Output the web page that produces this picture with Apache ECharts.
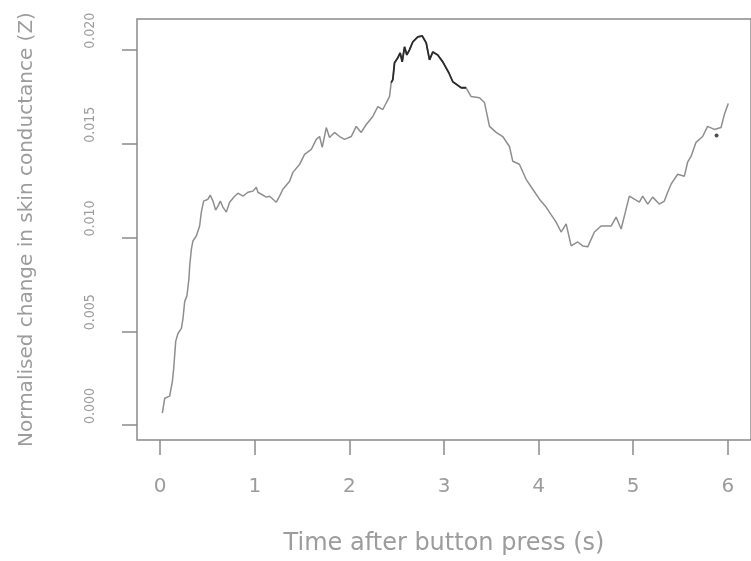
<!DOCTYPE html>
<html>
<head>
<meta charset="utf-8">
<script src="https://cdn.jsdelivr.net/npm/echarts@6/dist/echarts.min.js"></script>
<style>
html,body{margin:0;padding:0;background:#fff;}
#chart{width:751px;height:561px;}
</style>
</head>
<body>
<div id="chart"></div>
<script>
// Time after button press (s)
var timeS = [
  0.023, 0.048, 0.100, 0.129, 0.143, 0.164, 0.188, 0.224, 0.241, 0.259,
  0.283, 0.304, 0.312, 0.330, 0.346, 0.382, 0.417, 0.435, 0.459, 0.505,
  0.530, 0.558, 0.586, 0.611, 0.636, 0.663, 0.699, 0.734, 0.787, 0.822,
  0.875, 0.927, 0.980, 1.016, 1.033, 1.122, 1.157, 1.227, 1.262, 1.297,
  1.368, 1.403, 1.474, 1.526, 1.597, 1.650, 1.685, 1.713, 1.756, 1.790,
  1.843, 1.896, 1.949, 2.020, 2.072, 2.125, 2.178, 2.248, 2.301, 2.353,
  2.424, 2.442, 2.459, 2.477, 2.512, 2.537, 2.558, 2.583, 2.607, 2.635,
  2.670, 2.723, 2.770, 2.812, 2.847, 2.882, 2.934, 2.987, 3.051, 3.093,
  3.182, 3.234, 3.287, 3.375, 3.428, 3.481, 3.551, 3.621, 3.692, 3.727,
  3.797, 3.868, 3.938, 4.009, 4.079, 4.114, 4.185, 4.238, 4.291, 4.344,
  4.413, 4.466, 4.519, 4.590, 4.660, 4.766, 4.819, 4.872, 4.925, 4.959,
  5.012, 5.065, 5.100, 5.153, 5.205, 5.276, 5.329, 5.364, 5.400, 5.470,
  5.540, 5.575, 5.611, 5.664, 5.734, 5.786, 5.857, 5.928, 5.963, 6.005
];
// Normalised change in skin conductance (Z)
var conductance = [
  0.00064, 0.00143, 0.00154, 0.00233, 0.00302, 0.00446, 0.00488, 0.00515, 0.00568, 0.00658,
  0.00690, 0.00780, 0.00849, 0.00939, 0.00981, 0.01008, 0.01061, 0.01135, 0.01194, 0.01204,
  0.01225, 0.01194, 0.01146, 0.01167, 0.01194, 0.01162, 0.01135, 0.01188, 0.01220, 0.01236,
  0.01220, 0.01241, 0.01247, 0.01268, 0.01241, 0.01215, 0.01220, 0.01188, 0.01220, 0.01257,
  0.01300, 0.01347, 0.01390, 0.01443, 0.01469, 0.01523, 0.01538, 0.01480, 0.01586, 0.01533,
  0.01560, 0.01538, 0.01523, 0.01538, 0.01592, 0.01560, 0.01602, 0.01645, 0.01698, 0.01682,
  0.01751, 0.01825, 0.01841, 0.01931, 0.01958, 0.01984, 0.01936, 0.02016, 0.01973, 0.02000,
  0.02042, 0.02069, 0.02074, 0.02037, 0.01947, 0.01989, 0.01973, 0.01936, 0.01878, 0.01830,
  0.01798, 0.01798, 0.01751, 0.01745, 0.01719, 0.01592, 0.01560, 0.01538, 0.01485, 0.01406,
  0.01390, 0.01310, 0.01257, 0.01204, 0.01162, 0.01135, 0.01082, 0.01029, 0.01072, 0.00955,
  0.00976, 0.00955, 0.00950, 0.01029, 0.01061, 0.01061, 0.01109, 0.01045, 0.01151, 0.01220,
  0.01204, 0.01188, 0.01220, 0.01178, 0.01215, 0.01178, 0.01194, 0.01241, 0.01284, 0.01337,
  0.01326, 0.01401, 0.01432, 0.01507, 0.01538, 0.01592, 0.01576, 0.01586, 0.01655, 0.01714
];
// highlighted (dark) stretch near the peak
var darkStart = 2.44;
var darkEnd = 3.24;
// isolated dark point
var darkPointT = [5.881];
var darkPointV = [0.01544];

var xTicks = [0, 1, 2, 3, 4, 5, 6];
var yTicks = [0, 0.005, 0.010, 0.015, 0.020];
var xTitle = 'Time after button press (s)';
var yTitle = 'Normalised change in skin conductance (Z)';

var allPts = timeS.map(function (t, i) { return [t, conductance[i]]; });
var darkPts = allPts.filter(function (p) { return p[0] >= darkStart && p[0] <= darkEnd; });
var dotPts = darkPointT.map(function (t, i) { return [t, darkPointV[i]]; });

var axisGray = '#8a8a8a';
var textGray = '#9c9c9c';

var chart = echarts.init(document.getElementById('chart'), null, { renderer: 'canvas' });
chart.setOption({
  animation: false,
  backgroundColor: '#ffffff',
  grid: {
    left: 137, top: 19, right: 0, bottom: 119,
    show: true, borderColor: axisGray, borderWidth: 1.5, backgroundColor: 'transparent'
  },
  xAxis: {
    type: 'value',
    min: -0.245, max: 6.245,
    axisLine: { show: false, onZero: false },
    splitLine: { show: false },
    axisTick: { show: true, customValues: xTicks, length: 15, inside: false,
      lineStyle: { color: axisGray, width: 1.5 } },
    axisLabel: { customValues: xTicks, margin: 37, color: textGray,
      fontFamily: 'DejaVu Sans', fontSize: 20,
      formatter: function (v) { return String(v); } },
    name: xTitle, nameLocation: 'middle', nameGap: 92,
    nameTextStyle: { color: textGray, fontFamily: 'DejaVu Sans', fontSize: 24 }
  },
  yAxis: {
    type: 'value',
    min: -0.000796, max: 0.021645,
    axisLine: { show: false, onZero: false },
    splitLine: { show: false },
    axisTick: { show: true, customValues: yTicks, length: 15, inside: false,
      lineStyle: { color: axisGray, width: 1.5 } },
    axisLabel: { customValues: yTicks, rotate: 90, align: 'left', margin: 40,
      color: textGray, fontFamily: '"Liberation Sans Narrow", "DejaVu Sans Condensed", sans-serif',
      fontSize: 14, padding: [0, 0, 0, 1],
      formatter: function (v) { return v.toFixed(3); } },
    name: yTitle, nameLocation: 'middle', nameGap: 100, nameRotate: 90,
    nameTextStyle: { color: textGray, fontFamily: 'DejaVu Sans', fontSize: 20 }
  },
  series: [
    { type: 'line', data: allPts, showSymbol: false, symbol: 'none',
      lineStyle: { color: '#8e8e8e', width: 1.5 }, z: 2 },
    { type: 'line', data: darkPts, showSymbol: false, symbol: 'none',
      lineStyle: { color: '#2a2a2a', width: 1.8 }, z: 3 },
    { type: 'scatter', data: dotPts, symbolSize: 4,
      itemStyle: { color: '#222' }, z: 4 }
  ]
});
</script>
</body>
</html>
